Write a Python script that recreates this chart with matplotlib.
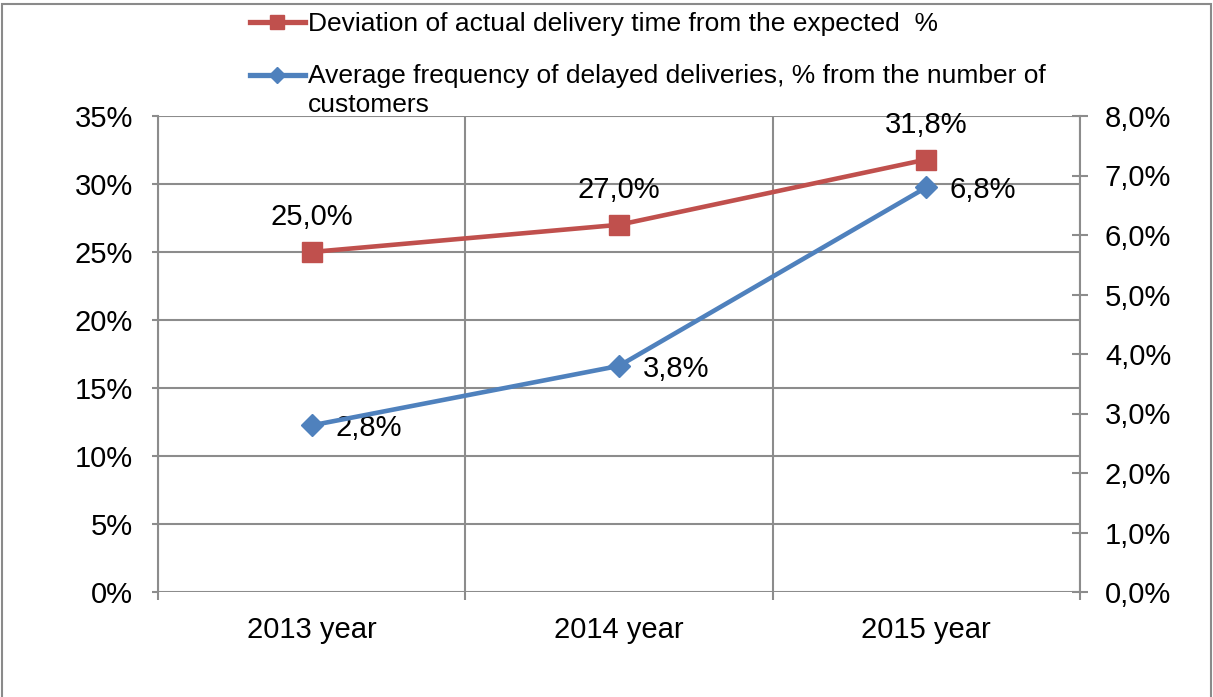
import matplotlib
matplotlib.use('Agg')
import matplotlib.pyplot as plt
from matplotlib.lines import Line2D
from matplotlib.patches import Rectangle
from matplotlib.ticker import FuncFormatter, FixedLocator

plt.rcParams['font.family'] = ['Liberation Sans', 'DejaVu Sans']

# データ
years = ['2013 year', '2014 year', '2015 year']
deviation = [25.0, 27.0, 31.8]      # 左軸, %
delayed_freq = [2.8, 3.8, 6.8]      # 右軸, %
label_dev = 'Deviation of actual delivery time from the expected  %'
label_freq = 'Average frequency of delayed deliveries, % from the number of\ncustomers'

red = '#C0504D'
blue = '#4F81BD'
grid_col = '#8C8C8C'

W, H = 1213, 697
fig = plt.figure(figsize=(W / 100, H / 100), dpi=100)
ax = fig.add_axes([158 / W, (H - 592) / H, (1080 - 158) / W, (592 - 116) / H])
ax2 = ax.twinx()

x = list(range(len(years)))

# 赤い線（左軸）
ax.plot(x, deviation, color=red, lw=3.3, marker='s', ms=14, zorder=5)
# 青い線（右軸）
ax2.plot(x, delayed_freq, color=blue, lw=3.3, marker='D', ms=11, zorder=5)

ax.set_xlim(-0.5, len(years) - 0.5)
ax.set_ylim(0, 35)
ax2.set_ylim(0, 8)
ax.set_yticks(range(0, 36, 5))
ax2.set_yticks(range(0, 9))
ax.yaxis.set_major_formatter(FuncFormatter(lambda v, p: f'{v:.0f}%'))
ax2.yaxis.set_major_formatter(FuncFormatter(lambda v, p: f'{v:.1f}%'.replace('.', ',')))

# x軸：ラベルは中央、目盛りは境界
ax.set_xticks(x)
ax.set_xticklabels(years)
ax.xaxis.set_minor_locator(FixedLocator([i - 0.5 for i in range(len(years) + 1)]))
ax.tick_params(axis='x', which='major', length=0, pad=17, labelsize=21)
ax.tick_params(axis='x', which='minor', length=6, width=1.5, color=grid_col, direction='out')
ax.tick_params(axis='y', length=4, width=1.5, color=grid_col, direction='out', pad=14, labelsize=21)
ax2.tick_params(axis='y', length=12, width=1.5, color=grid_col, direction='inout', pad=12, labelsize=21)

# グリッド
ax.grid(axis='y', color=grid_col, lw=1.5)
ax.grid(axis='x', which='minor', color=grid_col, lw=1.5)
ax.set_axisbelow(True)
for a in (ax, ax2):
    for s in a.spines.values():
        s.set_visible(False)
ax2.spines['right'].set_visible(True)
ax2.spines['right'].set_color(grid_col)
ax2.spines['right'].set_linewidth(1.5)
ax.spines['left'].set_visible(True)
ax.spines['left'].set_color(grid_col)
ax.spines['left'].set_linewidth(1.5)

# データラベル
for xi, v in zip(x, deviation):
    ax.annotate(f'{v:.1f}%'.replace('.', ','), (xi, v), xytext=(0, 25),
                textcoords='offset points', ha='center', va='center', fontsize=21)
for xi, v in zip(x, delayed_freq):
    ax2.annotate(f'{v:.1f}%'.replace('.', ','), (xi, v), xytext=(17, -2),
                 textcoords='offset points', ha='left', va='center', fontsize=21)

# 凡例（手動）
fig.add_artist(Line2D([250 / W, 305 / W], [1 - 22 / H] * 2, color=red, lw=3.8))
fig.add_artist(Line2D([277 / W], [1 - 22 / H], color=red, marker='s', ms=9.5))
fig.text(308 / W, 1 - 24 / H, label_dev, fontsize=19, va='center', ha='left')
fig.add_artist(Line2D([250 / W, 305 / W], [1 - 75 / H] * 2, color=blue, lw=3.8))
fig.add_artist(Line2D([277 / W], [1 - 75 / H], color=blue, marker='D', ms=8.5))
# 2行の凡例は1行ずつ置く
for i, line in enumerate(label_freq.split('\n')):
    fig.text(308 / W, 1 - (76 + 29 * i) / H, line, fontsize=19, va='center', ha='left')

# 外枠
fig.add_artist(Rectangle((2 / W, -0.05), 1209 / W, 1.05 - 4 / H, transform=fig.transFigure,
                         fill=False, edgecolor='#8A8A8A', lw=1.5))

plt.savefig('out.png', dpi=100)
plt.close()
